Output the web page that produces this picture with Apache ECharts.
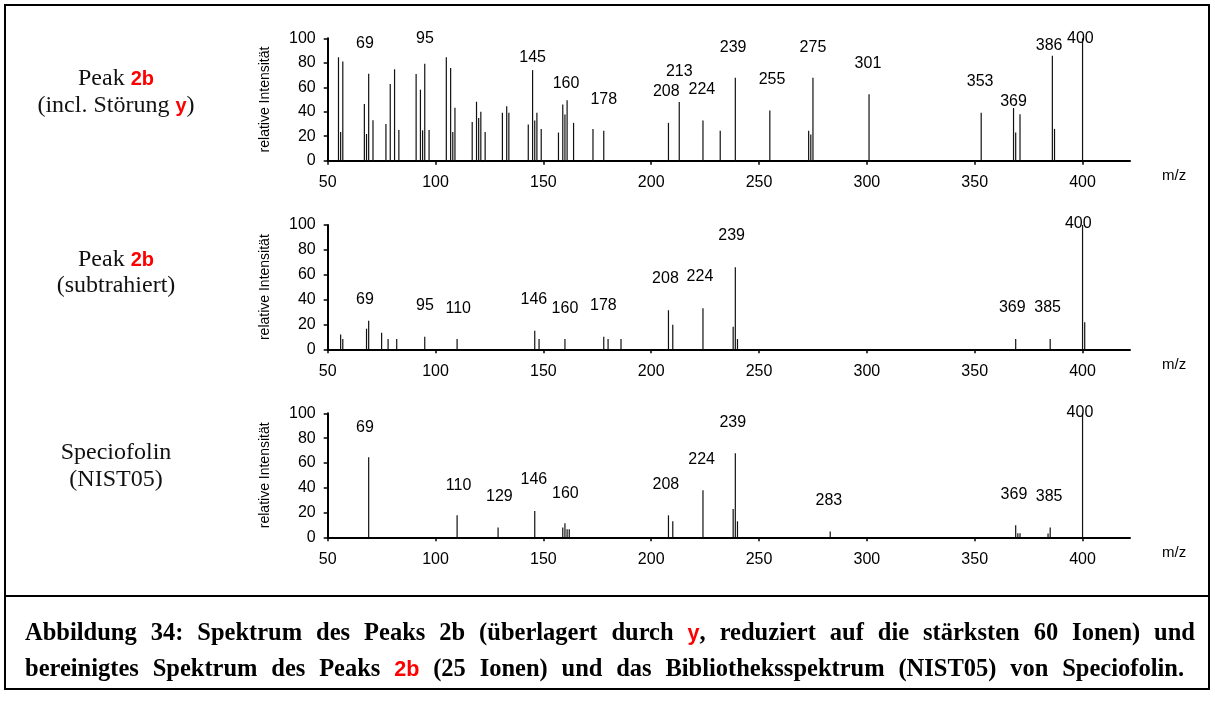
<!DOCTYPE html>
<html>
<head>
<meta charset="utf-8">
<script src="https://cdn.jsdelivr.net/npm/echarts@6/dist/echarts.min.js"></script>
<style>
html, body { margin: 0; padding: 0; background: #fff; }
#main { width: 1215px; height: 704px; }
</style>
</head>
<body>
<div id="main"></div>
<script>
// m/z tick labels
var xTicks = [50, 100, 150, 200, 250, 300, 350, 400];

// Peak 2b (incl. Störung y) - 60 strongest ions
var mzTop  = [55, 56, 57, 67, 68, 69, 71, 77, 79, 81, 83, 91, 93, 94, 95, 97, 105, 107, 108, 109,
              117, 119, 120, 121, 123, 131, 133, 134, 143, 145, 146, 147, 149, 157, 159, 160, 161, 164,
              173, 178, 208, 213, 224, 232, 239, 255, 273, 274, 275, 301, 353, 368, 369, 371, 386, 387, 400];
var intTop = [84.5, 23.4, 81, 46.3, 21.8, 71, 33, 30, 62.7, 74.7, 25, 70.8, 58, 24.8, 79.3, 25, 84.5, 75.7, 23.4, 43.3,
              31.6, 48.2, 34.9, 40, 23.4, 39.2, 44.4, 39.2, 29.6, 74, 32.9, 39.2, 26, 23, 46, 37.8, 49.3, 30.9,
              26, 24.4, 30.9, 47.9, 32.9, 24.4, 67.7, 41.1, 24.4, 21.4, 67.7, 54.2, 39.2, 43, 23, 38, 85.8, 26, 100];
var lblTop  = [69, 95, 145, 160, 178, 208, 213, 224, 239, 255, 275, 301, 353, 369, 386, 400];
var lblTopX = [67.3, 95.1, 145, 160.5, 178, 207, 213, 223.5, 238, 256, 275, 300.5, 352.5, 368, 384.5, 399];
var lblTopY = [95.4, 99.4, 84, 63, 50, 56.5, 73, 58, 92.5, 66.5, 92, 79, 65, 48, 94, 100];

// Peak 2b (subtrahiert) - 25 ions
var mzMid  = [56, 57, 68, 69, 75, 78, 82, 95, 110, 146, 148, 160, 178, 180, 186, 208, 210, 224, 238, 239, 240, 369, 385, 400, 401];
var intMid = [12, 8.3, 16.6, 23, 13.4, 8.3, 8.3, 10, 8.3, 15, 8.3, 8.3, 10, 8.3, 8.3, 31.4, 19.8, 33, 18.2, 66, 8.3, 8.3, 8.3, 100, 21.7];
var lblMid  = [69, 95, 110, 146, 160, 178, 208, 224, 239, 369, 385, 400];
var lblMidX = [67.3, 95.1, 110.5, 145.6, 160, 177.8, 206.6, 222.6, 237.3, 367.4, 383.8, 398];
var lblMidY = [39.7, 34.8, 33, 39.7, 33, 34.8, 57, 58.4, 91.4, 33.5, 33.5, 100.8];

// Speciofolin (NIST05)
var mzBot  = [69, 110, 129, 146, 159, 160, 161, 162, 208, 210, 224, 238, 239, 240, 283, 369, 370, 371, 384, 385, 400];
var intBot = [64.5, 17.7, 8, 21.2, 8, 11.3, 6.5, 6.5, 17.7, 12.9, 37.9, 22.8, 67.7, 12.9, 4.6, 9.7, 3.2, 3.2, 3, 8, 100];
var lblBot  = [69, 110, 129, 146, 160, 208, 224, 239, 283, 369, 385, 400];
var lblBotX = [67.3, 110.7, 129.6, 145.6, 160.2, 206.8, 223.4, 237.8, 282.4, 368.2, 384.5, 398.8];
var lblBotY = [88.7, 41.6, 32.7, 46.2, 35.5, 42.2, 62.3, 92.4, 29.5, 34.1, 32.7, 100.5];

var SANS = '"Liberation Sans", Arial, sans-serif';
var SERIF = '"Liberation Serif", "Times New Roman", serif';

var grids = [
  { left: 327.7, width: 802.3, top: 38.3, height: 122.4 },
  { left: 327.7, width: 802.3, top: 225, height: 124.3 },
  { left: 327.7, width: 802.3, top: 413.3, height: 124 }
];

function makeX(i) {
  return {
    type: 'value', gridIndex: i, min: 50, max: 422,
    name: 'm/z', nameLocation: 'end', nameGap: 32,
    nameTextStyle: { fontFamily: SANS, fontSize: 15, color: '#000', align: 'left', verticalAlign: 'top', padding: [8, 0, 0, 0] },
    axisLine: { lineStyle: { color: '#000', width: 2 } },
    axisTick: { length: 4, lineStyle: { color: '#000', width: 1.5 }, customValues: xTicks },
    axisLabel: { fontFamily: SANS, fontSize: 16, color: '#000', margin: 14, customValues: xTicks },
    splitLine: { show: false }
  };
}
function makeY(i) {
  return {
    type: 'value', gridIndex: i, min: 0, max: 100, interval: 20,
    name: 'relative Intensität', nameLocation: 'middle', nameGap: 56,
    nameTextStyle: { fontFamily: SANS, fontSize: 14, color: '#000' },
    axisLine: { show: true, lineStyle: { color: '#000', width: 2 } },
    axisTick: { show: true, length: 4, lineStyle: { color: '#000', width: 1.5 } },
    axisLabel: { fontFamily: SANS, fontSize: 16, color: '#000', margin: 12 },
    splitLine: { show: false }
  };
}
function bars(i, mz, vals) {
  return {
    type: 'bar', xAxisIndex: i, yAxisIndex: i, barWidth: 1.2, silent: true,
    itemStyle: { color: '#111' },
    data: mz.map(function (m, k) { return [m, vals[k]]; })
  };
}
function labels(i, names, xs, ys) {
  return {
    type: 'scatter', xAxisIndex: i, yAxisIndex: i, symbolSize: 0, clip: false, silent: true,
    itemStyle: { color: '#000', opacity: 1 },
    label: {
      show: true, position: 'inside', fontFamily: SANS, fontSize: 16, color: '#000',
      textBorderWidth: 0, textBorderColor: 'transparent',
      formatter: function (p) { return String(p.value[2]); }
    },
    data: names.map(function (n, k) { return [xs[k], ys[k], n]; })
  };
}

// caption layout (both lines spread over the measured widths)
var measureCtx = document.createElement('canvas').getContext('2d');
function textWidth(t, font) { measureCtx.font = font; return measureCtx.measureText(t).width; }

var capLeft = 25;
var capSize = 24.5;
var capFont = 'bold ' + capSize + 'px ' + SERIF;
var redFont = 'bold ' + (capSize * 0.88).toFixed(2) + 'px ' + SANS;

var line1Words = [
  [['Abbildung', 0]], [['34:', 0]], [['Spektrum', 0]], [['des', 0]], [['Peaks', 0]], [['2b', 0]],
  [['(überlagert', 0]], [['durch', 0]], [['y', 1], [',', 0]], [['reduziert', 0]], [['auf', 0]],
  [['die', 0]], [['stärksten', 0]], [['60', 0]], [['Ionen)', 0]], [['und', 0]]
];
var line2Words = [
  [['bereinigtes', 0]], [['Spektrum', 0]], [['des', 0]], [['Peaks', 0]], [['2b', 1]], [['(25', 0]],
  [['Ionen)', 0]], [['und', 0]], [['das', 0]], [['Bibliotheksspektrum', 0]], [['(NIST05)', 0]],
  [['von', 0]], [['Speciofolin.', 0]]
];
function wordWidth(w) {
  return w.reduce(function (s, r) { return s + textWidth(r[0], r[1] ? redFont : capFont); }, 0);
}
var captionEls = [];
function layoutLine(words, x0, x1, y) {
  var totalW = words.reduce(function (s, w) { return s + wordWidth(w); }, 0);
  var gap = (x1 - x0 - totalW) / (words.length - 1);
  var cx = x0;
  words.forEach(function (w) {
    w.forEach(function (r) {
      var f = r[1] ? redFont : capFont;
      captionEls.push({
        type: 'text', x: cx, y: y,
        style: { text: r[0], font: f, fill: r[1] ? '#ff0000' : '#000', textAlign: 'left', textVerticalAlign: 'middle' }
      });
      cx += textWidth(r[0], f);
    });
    cx += gap;
  });
}
layoutLine(line1Words, capLeft, 1195, 634);
layoutLine(line2Words, capLeft, 1184, 670);

function sideLabel(x, y, txt) {
  return {
    type: 'text', x: x, y: y,
    style: {
      text: txt, fontFamily: SERIF, fontSize: 24, fill: '#111', textAlign: 'center', textVerticalAlign: 'middle',
      rich: { r: { fontFamily: SANS, fontWeight: 'bold', fontSize: 20, fill: '#ff0000' } }
    }
  };
}

var option = {
  animation: false,
  backgroundColor: '#fff',
  grid: grids.map(function (g) { return Object.assign({ outerBoundsMode: 'none', containLabel: false }, g); }),
  xAxis: [makeX(0), makeX(1), makeX(2)],
  yAxis: [makeY(0), makeY(1), makeY(2)],
  series: [
    bars(0, mzTop, intTop), labels(0, lblTop, lblTopX, lblTopY),
    bars(1, mzMid, intMid), labels(1, lblMid, lblMidX, lblMidY),
    bars(2, mzBot, intBot), labels(2, lblBot, lblBotX, lblBotY)
  ],
  graphic: [
    { type: 'rect', shape: { x: 5, y: 5, width: 1204, height: 684 }, style: { fill: 'none', stroke: '#000', lineWidth: 2 } },
    { type: 'line', shape: { x1: 5, y1: 596, x2: 1209, y2: 596 }, style: { stroke: '#000', lineWidth: 2 } },
    sideLabel(116, 79, 'Peak {r|2b}'),
    sideLabel(116, 106, '(incl. Störung {r|y})'),
    sideLabel(116, 260, 'Peak {r|2b}'),
    sideLabel(116, 286, '(subtrahiert)'),
    sideLabel(116, 453, 'Speciofolin'),
    sideLabel(116, 480, '(NIST05)')
  ].concat(captionEls)
};

var myChart = echarts.init(document.getElementById('main'));
myChart.setOption(option);
</script>
</body>
</html>
